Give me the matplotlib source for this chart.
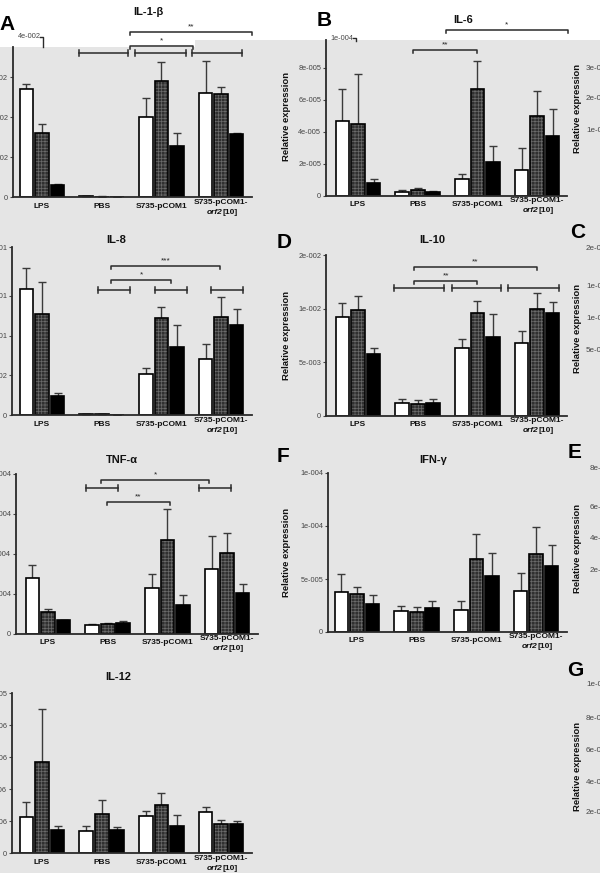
import numpy as np
import matplotlib
matplotlib.use('Agg')
import matplotlib.pyplot as plt
from matplotlib.patches import Rectangle
from matplotlib.lines import Line2D

plt.rcParams['font.family'] = ['Liberation Sans', 'DejaVu Sans']
plt.rcParams['hatch.linewidth'] = 0.5

groups = ['LPS', 'PBS', 'S735-pCOM1', 'S735-pCOM1-']
strain_italic = 'orf2'
strain_rest = '[10]'

# IL-1-beta
il1b_white = [2.69e-2, 0.02e-2, 2.01e-2, 2.61e-2]
il1b_white_err = [0.14e-2, 0.01e-2, 0.46e-2, 0.80e-2]
il1b_dot = [1.61e-2, 0.01e-2, 2.90e-2, 2.57e-2]
il1b_dot_err = [0.22e-2, 0.005e-2, 0.475e-2, 0.19e-2]
il1b_black = [0.30e-2, 0.01e-2, 1.28e-2, 1.57e-2]
il1b_black_err = [0.02e-2, 0.002e-2, 0.33e-2, 0.04e-2]
il1b_ticks = [0, 1e-2, 2e-2, 3e-2]
il1b_ticklabels = ['0', '1e-002', '2e-002', '3e-002']
il1b_open = [(1.47, 3.52, 4.125e-2, '**'), (1.47, 2.53, 3.775e-2, '*')]
il1b_capped = [(0.62, 1.44, 3.6e-2), (1.56, 2.41, 3.6e-2), (2.51, 3.35, 3.6e-2)]

# IL-6
il6_white = [4.69e-5, 0.27e-5, 1.04e-5, 1.63e-5]
il6_white_err = [1.98e-5, 0.10e-5, 0.31e-5, 1.35e-5]
il6_dot = [4.50e-5, 0.375e-5, 6.67e-5, 5.0e-5]
il6_dot_err = [3.1e-5, 0.15e-5, 1.77e-5, 1.58e-5]
il6_black = [0.79e-5, 0.27e-5, 2.10e-5, 3.75e-5]
il6_black_err = [0.25e-5, 0.04e-5, 1.05e-5, 1.67e-5]
il6_ticks = [0, 2e-5, 4e-5, 6e-5, 8e-5]
il6_ticklabels = ['0', '2e-005', '4e-005', '6e-005', '8e-005']
il6_open = [(1.48, 3.51, 1.0375e-4, '*'), (0.92, 2.0, 9.125e-5, '**')]
il6_capped = []

# IL-8
il8_white = [0.1585, 0.001, 0.0515, 0.0705]
il8_white_err = [0.0265, 0.0002, 0.008, 0.0185]
il8_dot = [0.1275, 0.001, 0.1225, 0.124]
il8_dot_err = [0.0395, 0.0002, 0.013, 0.0245]
il8_black = [0.024, 0.0005, 0.085, 0.1135]
il8_black_err = [0.0035, 0.0001, 0.028, 0.02]
il8_ticks = [0, 5e-2, 1e-1, 1.5e-1, 2.115e-1]
il8_ticklabels = ['0', '5e-002', '1e-001', '2e-001', '2e-001']
il8_open = [(1.16, 2.98, 0.188, '***'), (1.16, 2.16, 0.170, '*')]
il8_capped = [(0.94, 1.47, 0.1575), (1.89, 2.43, 0.1575), (2.83, 3.37, 0.1575)]

# IL-10
il10_white = [9.25e-3, 1.25e-3, 6.3e-3, 6.8e-3]
il10_white_err = [1.3e-3, 0.37e-3, 0.9e-3, 1.1e-3]
il10_dot = [9.88e-3, 1.15e-3, 9.56e-3, 9.94e-3]
il10_dot_err = [1.32e-3, 0.35e-3, 1.14e-3, 1.56e-3]
il10_black = [5.8e-3, 1.2e-3, 7.4e-3, 9.56e-3]
il10_black_err = [0.5e-3, 0.36e-3, 2.1e-3, 1.09e-3]
il10_ticks = [0, 5e-3, 1e-2, 1.5e-2]
il10_ticklabels = ['0', '5e-003', '1e-002', '2e-002']
il10_open = [(0.94, 2.99, 1.385e-2, '**'), (0.94, 2.0, 1.26e-2, '**')]
il10_capped = [(0.6, 1.44, 1.195e-2), (1.58, 2.4, 1.195e-2), (2.52, 3.36, 1.195e-2)]

# TNF-alpha
tnf_white = [2.8e-4, 0.44e-4, 2.3e-4, 3.26e-4]
tnf_white_err = [0.65e-4, 0.06e-4, 0.68e-4, 1.62e-4]
tnf_dot = [1.1e-4, 0.52e-4, 4.72e-4, 4.05e-4]
tnf_dot_err = [0.16e-4, 0.03e-4, 1.53e-4, 0.99e-4]
tnf_black = [0.68e-4, 0.56e-4, 1.46e-4, 2.04e-4]
tnf_black_err = [0.04e-4, 0.08e-4, 0.49e-4, 0.44e-4]
tnf_ticks = [0, 2e-4, 4e-4, 6e-4, 8e-4]
tnf_ticklabels = ['0', '2e-004', '4e-004', '6e-004', '8e-004']
tnf_open = [(0.89, 2.7, 7.7e-4, '*'), (0.99, 2.04, 6.6e-4, '**')]
tnf_capped = [(0.64, 1.17, 7.3e-4), (2.53, 3.07, 7.3e-4)]

# IFN-gamma
ifn_white = [3.74e-5, 2.0e-5, 2.1e-5, 3.9e-5]
ifn_white_err = [1.7e-5, 0.5e-5, 0.85e-5, 1.63e-5]
ifn_dot = [3.58e-5, 1.89e-5, 6.9e-5, 7.36e-5]
ifn_dot_err = [0.62e-5, 0.47e-5, 2.35e-5, 2.51e-5]
ifn_black = [2.6e-5, 2.26e-5, 5.25e-5, 6.26e-5]
ifn_black_err = [0.86e-5, 0.69e-5, 2.25e-5, 1.98e-5]
ifn_ticks = [0, 5e-5, 1e-4, 1.5e-4]
ifn_ticklabels = ['0', '5e-005', '1e-004', '1e-004']

# IL-12
il12_white = [2.25e-6, 1.4e-6, 2.3e-6, 2.54e-6]
il12_white_err = [0.95e-6, 0.28e-6, 0.3e-6, 0.32e-6]
il12_dot = [5.66e-6, 2.44e-6, 3.02e-6, 1.84e-6]
il12_dot_err = [3.34e-6, 0.88e-6, 0.73e-6, 0.22e-6]
il12_black = [1.42e-6, 1.46e-6, 1.7e-6, 1.8e-6]
il12_black_err = [0.26e-6, 0.16e-6, 0.66e-6, 0.2e-6]
il12_ticks = [0, 2e-6, 4e-6, 6e-6, 8e-6, 1e-5]
il12_ticklabels = ['0', '2e-006', '4e-006', '6e-006', '8e-006', '1e-005']

# cut-off axes on the right edge
strip_labels = [['3e-005', '2e-005', '1e-005'],
                ['2e-004', '1e-004', '1e-004', '5e-005'],
                ['8e-006', '6e-006', '4e-006', '2e-006'],
                ['1e-005', '8e-006', '6e-006', '4e-006', '2e-006']]

W, H = 600, 873
fig = plt.figure(figsize=(6, 8.73), dpi=100)
fig.patch.set_facecolor('#e5e5e5')
fig.add_artist(Rectangle((0, 1 - 40 / H), 1, 40 / H, transform=fig.transFigure,
                         facecolor='white', edgecolor='none', zorder=-2))
fig.add_artist(Rectangle((0, 1 - 47 / H), 195 / W, 8 / H, transform=fig.transFigure,
                         facecolor='white', edgecolor='none', zorder=-2))

LC = '#2a2a2a'


def fx(x):
    return x / W


def fy(y):
    return 1 - y / H


def panel(L, R, B, T, top, c0, white, we, dot, de, black, be, ticks, labels,
          title, tpos, spine_top=None, ylab=False):
    s = 59.7
    ax = fig.add_axes([fx(L), fy(B), (R - L) / W, (B - T) / H])
    ax.set_facecolor('none')
    ax.set_xlim((L - c0) / s, (R - c0) / s)
    ax.set_ylim(0, top)
    x = np.arange(4)
    w, off = 0.23, 0.26
    ax.bar(x - off, white, w, color='white', edgecolor='black', lw=1.2, zorder=2)
    ax.bar(x, dot, w, color='#303030', edgecolor='#6a6a6a', hatch='+++++', lw=0, zorder=2)
    ax.bar(x, dot, w, color='none', edgecolor='black', lw=1.2, zorder=2)
    ax.bar(x + off, black, w, color='black', edgecolor='black', lw=1.2, zorder=2)
    for xs, v, e in [(x - off, white, we), (x, dot, de), (x + off, black, be)]:
        ax.errorbar(xs, v, yerr=[np.zeros(4), e], fmt='none', ecolor='#3a3a3a',
                    elinewidth=1, capsize=2.8, capthick=1, zorder=1)
    for sp in ['top', 'right']:
        ax.spines[sp].set_visible(False)
    for sp in ['left', 'bottom']:
        ax.spines[sp].set_linewidth(1.3)
        ax.spines[sp].set_color(LC)
    if spine_top is not None:
        ax.spines['left'].set_bounds(0, spine_top)
    ax.set_yticks(ticks)
    ax.set_yticklabels(labels)
    ax.tick_params(axis='y', labelsize=5.3, colors='#444444', length=2.5, width=0.8, pad=1)
    ax.set_xticks([])
    # group labels
    for i, g in enumerate(groups):
        dy = -5 if i == 3 else -9
        ax.annotate(g, xy=(i, 0), xycoords=('data', 'axes fraction'), xytext=(0, dy),
                    textcoords='offset pixels', ha='center', va='center',
                    fontsize=6, fontweight='bold', color='#111111', annotation_clip=False)
    ax.annotate(strain_italic, xy=(3, 0), xycoords=('data', 'axes fraction'), xytext=(1, -15),
                textcoords='offset pixels', ha='right', va='center', fontsize=6,
                fontweight='bold', style='italic', color='#111111', annotation_clip=False)
    ax.annotate(strain_rest, xy=(3, 0), xycoords=('data', 'axes fraction'), xytext=(1, -15),
                textcoords='offset pixels', ha='left', va='center', fontsize=6,
                fontweight='bold', color='#111111', annotation_clip=False)
    fig.text(fx(tpos[0]), fy(tpos[1]), title, ha='center', va='center',
             fontsize=8, fontweight='bold', color='#111111')
    if ylab:
        ax.set_ylabel('Relative expression', fontsize=6.8, fontweight='bold', color='#111111')
        ax.yaxis.set_label_coords((291 - L) / (R - L), 0.5)
    return ax


def brackets(ax, opens, capped, px):
    # px: data units per pixel in y
    for x0, x1, y, star in opens:
        ax.plot([x0, x0, x1, x1], [y - 3 * px, y, y, y - 3 * px], color=LC, lw=1.1, clip_on=False)
        ax.text((x0 + x1) / 2, y + 1.5 * px, star, ha='center', va='bottom', fontsize=6,
                color='#222222')
    for x0, x1, y in capped:
        ax.plot([x0, x1], [y, y], color=LC, lw=1.1, clip_on=False)
        for xx in (x0, x1):
            ax.plot([xx, xx], [y - 3 * px, y + 3 * px], color=LC, lw=1.1, clip_on=False)


ax = panel(13, 252, 197, 37, 4e-2, 42, il1b_white, il1b_white_err, il1b_dot, il1b_dot_err,
           il1b_black, il1b_black_err, il1b_ticks, il1b_ticklabels, 'IL-1-\u03b2', (148, 12),
           spine_top=3.75e-2)
brackets(ax, il1b_open, il1b_capped, 4e-2 / 160)
fig.text(fx(41), fy(37), '4e-002', ha='right', va='center', fontsize=5.3, color='#444444')
fig.add_artist(Line2D([fx(40), fx(43), fx(43)], [fy(37), fy(37), fy(47)], color=LC, lw=1))

ax = panel(326, 567, 196, 36, 1e-4, 358, il6_white, il6_white_err, il6_dot, il6_dot_err,
           il6_black, il6_black_err, il6_ticks, il6_ticklabels, 'IL-6', (463, 20),
           spine_top=9.75e-5, ylab=True)
brackets(ax, il6_open, il6_capped, 1e-4 / 160)
fig.text(fx(353), fy(38), '1e-004', ha='right', va='center', fontsize=5.3, color='#444444')
fig.add_artist(Line2D([fx(353), fx(356), fx(356)], [fy(38), fy(38), fy(41)], color=LC, lw=1))

ax = panel(12, 252, 415, 247, 2.115e-1, 42, il8_white, il8_white_err, il8_dot, il8_dot_err,
           il8_black, il8_black_err, il8_ticks, il8_ticklabels, 'IL-8', (116, 240))
brackets(ax, il8_open, il8_capped, 5e-2 / 39.7)

ax = panel(326, 567, 416, 255, 1.5e-2, 358, il10_white, il10_white_err, il10_dot, il10_dot_err,
           il10_black, il10_black_err, il10_ticks, il10_ticklabels, 'IL-10', (432, 240), ylab=True)
brackets(ax, il10_open, il10_capped, 5e-3 / 53.5)

ax = panel(16, 258, 634, 474, 8e-4, 48, tnf_white, tnf_white_err, tnf_dot, tnf_dot_err,
           tnf_black, tnf_black_err, tnf_ticks, tnf_ticklabels, 'TNF-\u03b1', (122, 460))
brackets(ax, tnf_open, tnf_capped, 2e-4 / 40)

ax = panel(328, 567, 632, 473, 1.5e-4, 357, ifn_white, ifn_white_err, ifn_dot, ifn_dot_err,
           ifn_black, ifn_black_err, ifn_ticks, ifn_ticklabels, 'IFN-\u03b3', (433, 460), ylab=True)

ax = panel(12, 252, 853, 693, 1e-5, 42, il12_white, il12_white_err, il12_dot, il12_dot_err,
           il12_black, il12_black_err, il12_ticks, il12_ticklabels, 'IL-12', (118, 677))

# panel letters
for lt, (px_, py_) in zip(['A', 'B', 'D', 'C', 'F', 'E', 'G'],
                          [(7, 24), (324, 21), (284, 242), (578, 232), (283, 457), (575, 452), (575, 670)]):
    fig.text(fx(px_), fy(py_), lt, ha='center', va='center', fontsize=15, fontweight='bold', color='black')

# right-edge strips
strip_ylab = [108, 328, 548, 766]
strip_x = [586, 586, 590, 586]
strip_y = [[68, 99, 131], [248, 287, 319, 351], [468, 507, 538, 571], [685, 718, 750, 782, 813]]
for i in range(4):
    fig.text(fx(577), fy(strip_ylab[i]), 'Relative expression', rotation=90, ha='center', va='center',
             fontsize=6.8, fontweight='bold', color='#111111')
    for lab, yy in zip(strip_labels[i], strip_y[i]):
        fig.text(fx(strip_x[i]), fy(yy), lab, ha='left', va='center', fontsize=5.8, color='#444444')

fig.savefig('out.png', dpi=100, facecolor=fig.get_facecolor())
